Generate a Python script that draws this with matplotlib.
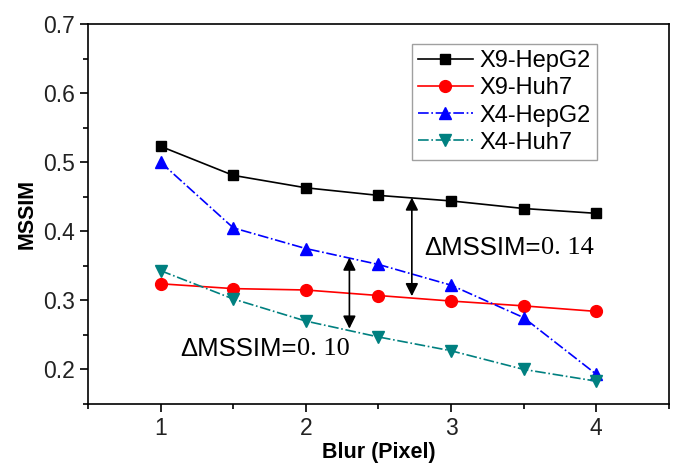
import matplotlib.pyplot as plt
import numpy as np

plt.rcParams['font.family'] = ['Liberation Sans', 'DejaVu Sans']

# Blur levels (pixels)
blur = [1, 1.5, 2, 2.5, 3, 3.5, 4]

# MSSIM values
x9_hepg2 = [0.523, 0.481, 0.463, 0.452, 0.444, 0.433, 0.426]
x9_huh7 = [0.324, 0.317, 0.315, 0.307, 0.299, 0.292, 0.284]
x4_hepg2 = [0.500, 0.405, 0.375, 0.352, 0.322, 0.275, 0.193]
x4_huh7 = [0.343, 0.302, 0.270, 0.247, 0.227, 0.200, 0.183]

fig = plt.figure(figsize=(6.77, 4.73), dpi=100)
ax = fig.add_axes([0.13, 0.146, 0.858, 0.803])

ax.plot(blur, x9_hepg2, color='black', marker='s', ms=7.5, lw=1.2, label='X9-HepG2')
ax.plot(blur, x9_huh7, color='red', marker='o', ms=8.5, lw=1.2, label='X9-Huh7')
ax.plot(blur, x4_hepg2, color='blue', marker='^', ms=8.5, lw=1.2, ls='-.', label='X4-HepG2')
ax.plot(blur, x4_huh7, color='#008080', marker='v', ms=8.5, lw=1.2, ls='-.', label='X4-Huh7')

# difference arrows
arrow = dict(arrowstyle='<|-|>', color='black', lw=1.2, mutation_scale=19, shrinkA=0, shrinkB=0)
ax.annotate('', xy=(2.30, 0.259), xytext=(2.30, 0.362), arrowprops=arrow)
ax.annotate('', xy=(2.73, 0.306), xytext=(2.73, 0.449), arrowprops=arrow)

ax.text(1.94, 0.229, 'ΔMSSIM=', ha='right', va='center', fontsize=18.5)
ax.text(1.94, 0.229, '0. 10', ha='left', va='center', fontsize=19, family='Liberation Serif')
ax.text(3.62, 0.376, 'ΔMSSIM=', ha='right', va='center', fontsize=18.5)
ax.text(3.62, 0.376, '0. 14', ha='left', va='center', fontsize=19, family='Liberation Serif')

ax.set_xlim(0.5, 4.5)
ax.set_ylim(0.15, 0.7)
ax.set_xticks([1, 2, 3, 4])
ax.set_xticks(np.arange(0.5, 4.6, 0.5), minor=True)
ax.set_yticks([0.2, 0.3, 0.4, 0.5, 0.6, 0.7])
ax.set_yticks(np.arange(0.15, 0.71, 0.05), minor=True)
ax.tick_params(which='major', direction='out', length=6, width=1.2, labelsize=16.5, labelcolor='#222222')
ax.tick_params(which='minor', direction='out', length=3.5, width=1.2)
for s in ax.spines.values():
    s.set_linewidth(1.2)

ax.set_xlabel('Blur (Pixel)', fontsize=15.5, fontweight='bold', labelpad=1)
ax.set_ylabel('MSSIM', fontsize=15.5, fontweight='bold')

leg = ax.legend(loc='upper right', bbox_to_anchor=(0.876, 0.947), fontsize=17, fancybox=False,
                edgecolor='#888888', handlelength=2.3, borderpad=0.25, labelspacing=0.22,
                handletextpad=0.3, borderaxespad=0)
leg.get_frame().set_linewidth(1.0)

plt.savefig('out.png')
